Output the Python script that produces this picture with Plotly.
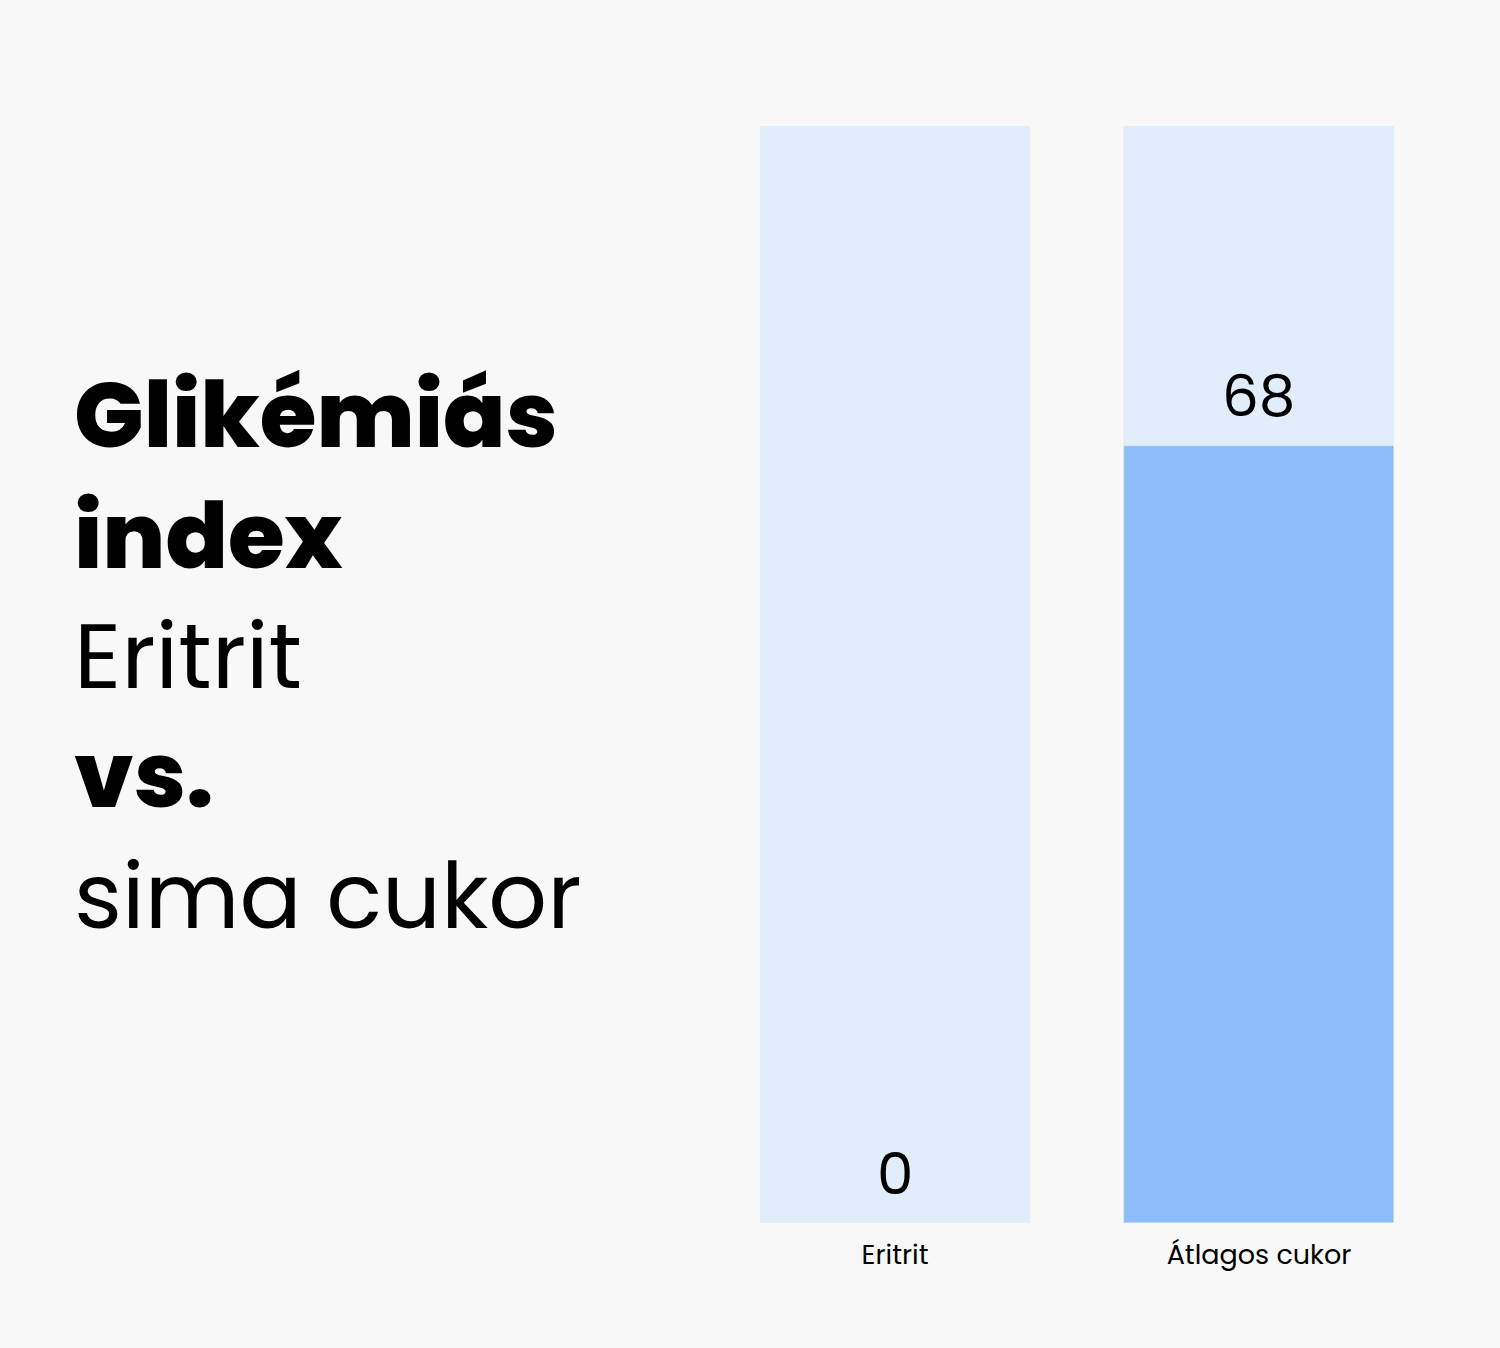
import plotly.graph_objects as go

categories = ["Eritrit", "Átlagos cukor"]
values = [0, 68]
scale_max = [96, 96]  # full track behind each bar

title_lines = [
    ("Glikémiás", True),
    ("index", True),
    ("Eritrit", False),
    ("vs.", True),
    ("sima cukor", False),
]

FONT = "Poppins, Inter, Lato, sans-serif"
BG = "#f8f8f8"

fig = go.Figure()
fig.add_trace(go.Bar(x=categories, y=scale_max, marker_color="#e1edfa",
                     width=0.742, hoverinfo="skip"))
fig.add_trace(go.Bar(x=categories, y=values, marker_color="#8cbdf9",
                     width=0.742))

# value labels above each bar
for cat, val in zip(categories, values):
    fig.add_annotation(x=cat, y=val, text=str(val), showarrow=False,
                       yanchor="middle", yshift=50,
                       font=dict(family=FONT, size=58, color="#000000"))

# big title block on the left
for i, (line, bold) in enumerate(title_lines):
    fig.add_annotation(xref="paper", yref="paper", x=0.048,
                       y=1 - (415 + 120 * i) / 1348,
                       text=line, showarrow=False, xanchor="left", yanchor="middle",
                       font=dict(family=FONT, size=92, color="#000000",
                                 weight=800 if bold else 400))

fig.update_layout(
    width=1500, height=1348,
    barmode="overlay",
    showlegend=False,
    paper_bgcolor=BG, plot_bgcolor=BG,
    margin=dict(l=0, r=0, t=0, b=0),
    bargap=0,
)
fig.update_xaxes(domain=[760 / 1500, 1394 / 1500], range=[-0.371, 1.371],
                 showgrid=False, zeroline=False, showline=False,
                 ticks="outside", ticklen=8, tickcolor="rgba(0,0,0,0)",
                 tickfont=dict(family=FONT, size=27, color="#000000"))
fig.update_yaxes(domain=[(1348 - 1223) / 1348, (1348 - 126) / 1348], range=[0, 96],
                 visible=False)

# drop the default page margin so the figure fills the window
fig.write_html("out.html", config={"displayModeBar": False},
               post_script="document.body.style.margin='0';")
